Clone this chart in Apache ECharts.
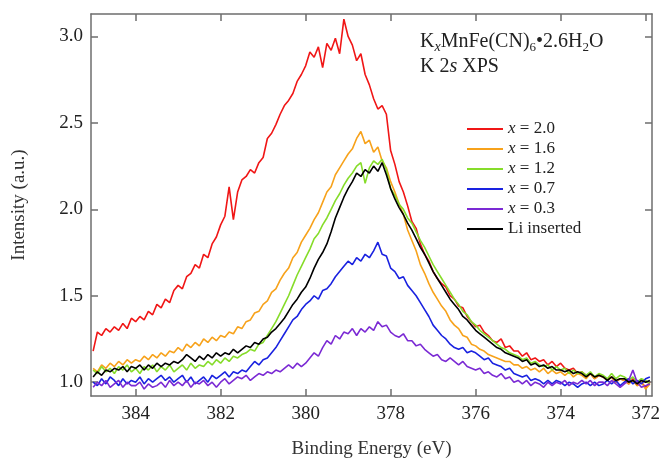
<!DOCTYPE html>
<html>
<head>
<meta charset="utf-8">
<script src="https://cdn.jsdelivr.net/npm/echarts@6/dist/echarts.min.js"></script>
<style>
  html, body { margin: 0; padding: 0; background: #fff; }
  #chart { width: 665px; height: 464px; }
</style>
</head>
<body>
<div id="chart"></div>
<script>
// binding energy grid (eV), 0.1 eV step
var energy = [
  385.0, 384.9, 384.8, 384.7, 384.6, 384.5, 384.4, 384.3, 384.2, 384.1,
  384.0, 383.9, 383.8, 383.7, 383.6, 383.5, 383.4, 383.3, 383.2, 383.1,
  383.0, 382.9, 382.8, 382.7, 382.6, 382.5, 382.4, 382.3, 382.2, 382.1,
  382.0, 381.9, 381.8, 381.7, 381.6, 381.5, 381.4, 381.3, 381.2, 381.1,
  381.0, 380.9, 380.8, 380.7, 380.6, 380.5, 380.4, 380.3, 380.2, 380.1,
  380.0, 379.9, 379.8, 379.7, 379.6, 379.5, 379.4, 379.3, 379.2, 379.1,
  379.0, 378.9, 378.8, 378.7, 378.6, 378.5, 378.4, 378.3, 378.2, 378.1,
  378.0, 377.9, 377.8, 377.7, 377.6, 377.5, 377.4, 377.3, 377.2, 377.1,
  377.0, 376.9, 376.8, 376.7, 376.6, 376.5, 376.4, 376.3, 376.2, 376.1,
  376.0, 375.9, 375.8, 375.7, 375.6, 375.5, 375.4, 375.3, 375.2, 375.1,
  375.0, 374.9, 374.8, 374.7, 374.6, 374.5, 374.4, 374.3, 374.2, 374.1,
  374.0, 373.9, 373.8, 373.7, 373.6, 373.5, 373.4, 373.3, 373.2, 373.1,
  373.0, 372.9, 372.8, 372.7, 372.6, 372.5, 372.4, 372.3, 372.2, 372.1,
  372.0, 371.9
];

var x20 = [
  1.18, 1.29, 1.27, 1.31, 1.29, 1.32, 1.30, 1.34, 1.31, 1.37,
  1.35, 1.38, 1.36, 1.41, 1.39, 1.45, 1.43, 1.48, 1.46, 1.53,
  1.56, 1.54, 1.61, 1.63, 1.68, 1.66, 1.74, 1.72, 1.80, 1.84,
  1.91, 1.96, 2.13, 1.94, 2.10, 2.17, 2.19, 2.23, 2.21, 2.27,
  2.30, 2.41, 2.44, 2.49, 2.55, 2.60, 2.63, 2.67, 2.74, 2.78,
  2.83, 2.91, 2.88, 2.94, 2.82, 2.96, 2.92, 2.99, 2.90, 3.10,
  3.00, 2.95, 2.86, 2.90, 2.78, 2.72, 2.64, 2.58, 2.60, 2.55,
  2.34, 2.26, 2.16, 2.10, 2.02, 1.93, 1.89, 1.80, 1.74, 1.70,
  1.64, 1.60, 1.57, 1.55, 1.50, 1.48, 1.44, 1.43, 1.38, 1.35,
  1.32, 1.33, 1.29, 1.27, 1.24, 1.23, 1.25, 1.20, 1.21, 1.18,
  1.18, 1.15, 1.17, 1.13, 1.14, 1.12, 1.13, 1.10, 1.12, 1.09,
  1.11, 1.08, 1.07, 1.08, 1.05, 1.06, 1.04, 1.05, 1.02, 1.04,
  1.03, 1.01, 1.03, 1.00, 1.02, 1.01, 0.99, 1.02, 0.98, 1.00,
  0.97, 1.00
];

var x16 = [
  1.08, 1.06, 1.10, 1.08, 1.11, 1.09, 1.12, 1.10, 1.13, 1.11,
  1.13, 1.12, 1.15, 1.13, 1.16, 1.14, 1.17, 1.15, 1.18, 1.17,
  1.20, 1.18, 1.22, 1.20, 1.23, 1.21, 1.25, 1.23, 1.26, 1.24,
  1.27, 1.26, 1.29, 1.28, 1.32, 1.31, 1.35, 1.36, 1.40, 1.41,
  1.45, 1.47, 1.52, 1.54, 1.59, 1.63, 1.66, 1.72, 1.75, 1.81,
  1.85, 1.89, 1.94, 1.98, 2.04, 2.10, 2.13, 2.20, 2.24, 2.28,
  2.32, 2.35, 2.41, 2.45, 2.38, 2.40, 2.33, 2.36, 2.28, 2.24,
  2.16, 2.10, 2.03, 1.97, 1.88, 1.82, 1.76, 1.68, 1.63, 1.57,
  1.52, 1.48, 1.44, 1.41, 1.36, 1.33, 1.31, 1.27, 1.26, 1.22,
  1.21, 1.19, 1.18, 1.16, 1.15, 1.14, 1.13, 1.12, 1.12, 1.10,
  1.10, 1.08, 1.09, 1.07, 1.08, 1.06, 1.08, 1.05, 1.07, 1.05,
  1.06, 1.04, 1.06, 1.03, 1.05, 1.04, 1.02, 1.05, 1.02, 1.04,
  1.03, 1.01, 1.03, 1.00, 1.02, 1.01, 0.99, 1.01, 0.98, 1.00,
  0.96, 0.99
];

var x12 = [
  1.07, 1.05, 1.09, 1.06, 1.08, 1.05, 1.09, 1.07, 1.10, 1.06,
  1.08, 1.05, 1.09, 1.07, 1.10, 1.06, 1.09, 1.07, 1.10, 1.06,
  1.08, 1.10, 1.07, 1.11, 1.08, 1.10, 1.09, 1.12, 1.10, 1.13,
  1.11, 1.14, 1.12, 1.15, 1.14, 1.16, 1.17, 1.19, 1.18, 1.22,
  1.23, 1.27, 1.31, 1.35, 1.40, 1.45, 1.50, 1.56, 1.62, 1.67,
  1.72, 1.77, 1.83, 1.86, 1.91, 1.95, 2.00, 2.05, 2.09, 2.14,
  2.18, 2.21, 2.25, 2.27, 2.15, 2.24, 2.28, 2.26, 2.29, 2.23,
  2.12, 2.08, 2.03, 2.00, 1.95, 1.92, 1.87, 1.82, 1.78, 1.73,
  1.68, 1.64, 1.60, 1.56, 1.52, 1.48, 1.45, 1.41, 1.39, 1.35,
  1.33, 1.30, 1.28, 1.26, 1.24, 1.22, 1.20, 1.19, 1.17, 1.16,
  1.15, 1.13, 1.14, 1.11, 1.12, 1.10, 1.09, 1.10, 1.07, 1.09,
  1.07, 1.08, 1.05, 1.07, 1.05, 1.06, 1.04, 1.06, 1.03, 1.05,
  1.04, 1.02, 1.05, 1.02, 1.04, 1.03, 1.01, 1.03, 1.00, 1.02,
  1.01, 0.99
];

var x07 = [
  1.00, 0.98, 1.02, 0.99, 1.03, 1.01, 0.98, 1.02, 0.99, 1.01,
  1.00, 1.03, 0.99, 1.02, 1.00, 1.02, 1.04, 1.01, 1.03, 1.00,
  1.02, 1.04, 1.00, 1.03, 0.99, 1.01, 1.03, 1.00, 1.04, 1.02,
  1.04, 1.06, 1.03, 1.06, 1.05, 1.07, 1.06, 1.09, 1.12, 1.10,
  1.13, 1.14, 1.17, 1.20, 1.24, 1.28, 1.32, 1.36, 1.38, 1.42,
  1.45, 1.47, 1.50, 1.48, 1.53, 1.54, 1.57, 1.61, 1.64, 1.67,
  1.70, 1.68, 1.72, 1.70, 1.74, 1.72, 1.76, 1.81, 1.74, 1.73,
  1.66, 1.64, 1.60, 1.61, 1.56, 1.53, 1.50, 1.46, 1.42, 1.38,
  1.33, 1.30, 1.27, 1.25, 1.22, 1.20, 1.19, 1.20, 1.17, 1.18,
  1.17, 1.15, 1.13, 1.14, 1.11, 1.10, 1.09, 1.07, 1.08, 1.05,
  1.04, 1.03, 1.04, 1.01, 1.02, 1.01, 0.99, 1.01, 0.99, 1.01,
  1.00, 0.98, 1.00, 0.99, 0.97, 0.99, 1.00, 0.98, 1.00, 0.98,
  0.99, 1.01, 0.99, 1.01, 0.98, 1.00, 1.02, 0.99, 1.01, 0.99,
  1.02, 1.03
];

var x03 = [
  0.97, 1.00, 0.98, 1.01, 0.97, 0.99, 1.01, 0.97, 1.00, 0.98,
  0.98, 1.00, 0.96, 0.99, 0.97, 0.98, 1.00, 0.97, 1.01, 0.98,
  1.00, 0.98, 1.01, 0.97, 1.00, 0.99, 1.01, 0.98, 1.00, 0.97,
  1.00, 1.02, 0.99, 1.01, 1.03, 1.02, 1.04, 1.01, 1.03, 1.05,
  1.04, 1.06, 1.05, 1.07, 1.06, 1.08, 1.10, 1.08, 1.11, 1.09,
  1.11, 1.14, 1.17, 1.15, 1.20, 1.24, 1.22, 1.27, 1.25, 1.29,
  1.28, 1.31, 1.27, 1.31, 1.29, 1.32, 1.30, 1.35, 1.32, 1.33,
  1.29, 1.27, 1.26, 1.28, 1.24, 1.24, 1.21, 1.22, 1.19, 1.17,
  1.15, 1.16, 1.13, 1.12, 1.14, 1.12, 1.10, 1.12, 1.09, 1.08,
  1.07, 1.08, 1.05, 1.06, 1.04, 1.03, 1.05, 1.02, 1.03, 1.00,
  1.01, 0.99, 1.01, 0.98, 1.00, 0.99, 0.97, 1.00, 0.98, 1.00,
  0.99, 1.01, 0.98, 1.00, 0.99, 1.01, 0.99, 1.01, 0.98, 1.00,
  1.00, 0.98, 1.01, 0.99, 0.97, 0.99, 1.01, 1.07, 1.00, 0.97,
  0.98, 0.99
];

var liInserted = [
  1.03, 1.06, 1.04, 1.07, 1.06, 1.08, 1.07, 1.09, 1.06, 1.09,
  1.08, 1.10, 1.07, 1.10, 1.08, 1.11, 1.09, 1.11, 1.10, 1.12,
  1.11, 1.13, 1.16, 1.14, 1.12, 1.15, 1.13, 1.16, 1.14, 1.17,
  1.15, 1.17, 1.16, 1.19, 1.17, 1.19, 1.21, 1.20, 1.23, 1.22,
  1.25, 1.26, 1.29, 1.31, 1.34, 1.37, 1.41, 1.45, 1.48, 1.52,
  1.55, 1.60, 1.66, 1.71, 1.75, 1.80, 1.87, 1.95, 2.01, 2.07,
  2.12, 2.16, 2.21, 2.19, 2.23, 2.21, 2.25, 2.22, 2.27, 2.20,
  2.12, 2.06, 2.01, 1.97, 1.92, 1.88, 1.83, 1.78, 1.74, 1.69,
  1.64, 1.60, 1.56, 1.52, 1.48, 1.45, 1.42, 1.38, 1.36, 1.33,
  1.30, 1.28, 1.26, 1.24, 1.22, 1.20, 1.19, 1.17, 1.16, 1.15,
  1.14, 1.12, 1.13, 1.10, 1.11, 1.09, 1.10, 1.08, 1.09, 1.07,
  1.07, 1.06, 1.07, 1.05, 1.06, 1.05, 1.03, 1.05, 1.03, 1.04,
  1.03, 1.01, 1.03, 1.01, 1.02, 1.02, 1.00, 1.01, 0.99, 1.01,
  1.00, 1.01
];

var seriesNames = ["x = 2.0", "x = 1.6", "x = 1.2", "x = 0.7", "x = 0.3", "Li inserted"];
var seriesData = [x20, x16, x12, x07, x03, liInserted];
var colors = ["#f01616", "#f7a21b", "#86dc2a", "#1a22e0", "#7b2ad4", "#000000"];

var xTicks = [372, 374, 376, 378, 380, 382, 384];
var yTicks = [1.0, 1.5, 2.0, 2.5, 3.0];

var FONT = "Liberation Serif";
var AXIS_COLOR = "#6e6e6e";

function pairs(ys) {
  var out = [];
  for (var i = 0; i < ys.length; i++) out.push([energy[i], ys[i]]);
  return out;
}

var chart = echarts.init(document.getElementById("chart"));

var frameX = {
  type: "value", min: 371.85, max: 385.05, inverse: true,
  axisLine: { lineStyle: { color: AXIS_COLOR, width: 1.5 } },
  axisTick: { inside: true, length: 7, customValues: xTicks, lineStyle: { color: AXIS_COLOR, width: 1.5 } },
  splitLine: { show: false }
};
var frameY = {
  type: "value", min: 0.92, max: 3.13,
  axisLine: { lineStyle: { color: AXIS_COLOR, width: 1.5 } },
  axisTick: { inside: true, length: 7, customValues: yTicks, lineStyle: { color: AXIS_COLOR, width: 1.5 } },
  splitLine: { show: false }
};

var series = seriesNames.map(function (name, k) {
  return {
    name: name,
    type: "line",
    data: pairs(seriesData[k]),
    symbol: "none",
    color: colors[k],
    lineStyle: { width: 1.6, color: colors[k] },
    z: 2 + k
  };
});

chart.setOption({
  animation: false,
  backgroundColor: "#fff",
  grid: { left: 91, right: 13, top: 14, bottom: 67 },
  title: {
    left: 415, top: 24,
    text: "{n|K}{sx|x}{n|MnFe(CN)}{sb|6}{n|•2.6H}{sb|2}{n|O}\n{n|K 2}{it|s}{n| XPS}",
    textStyle: {
      fontWeight: "normal",
      rich: {
        n: { fontFamily: FONT, fontSize: 20, fontWeight: "normal", color: "#222", lineHeight: 25 },
        sb: { fontFamily: FONT, fontSize: 13, fontWeight: "normal", color: "#222", lineHeight: 13, verticalAlign: "bottom" },
        sx: { fontFamily: FONT, fontSize: 14, fontWeight: "normal", fontStyle: "italic", color: "#222", lineHeight: 13, verticalAlign: "bottom" },
        it: { fontFamily: FONT, fontSize: 20, fontWeight: "normal", fontStyle: "italic", color: "#222", lineHeight: 25 }
      }
    }
  },
  legend: {
    orient: "vertical",
    left: 462, top: 115,
    itemWidth: 36, itemHeight: 2, itemGap: 2,
    icon: "rect",
    data: seriesNames,
    formatter: function (name) {
      if (name.charAt(0) === "x") return "{i|x}{t|" + name.slice(1) + "}";
      return "{t|" + name + "}";
    },
    textStyle: {
      fontFamily: FONT, fontSize: 17, color: "#222", lineHeight: 18,
      rich: {
        i: { fontFamily: FONT, fontSize: 17, fontStyle: "italic", color: "#222", lineHeight: 18 },
        t: { fontFamily: FONT, fontSize: 17, color: "#222", lineHeight: 18 }
      }
    }
  },
  xAxis: [
    Object.assign({}, frameX, {
      position: "bottom",
      name: "Binding Energy (eV)",
      nameLocation: "middle", nameGap: 44,
      nameTextStyle: { fontFamily: FONT, fontSize: 19, color: "#333" },
      axisLabel: { customValues: xTicks, fontFamily: FONT, fontSize: 19, color: "#222", margin: 9 }
    }),
    Object.assign({}, frameX, { position: "top", axisLabel: { show: false } })
  ],
  yAxis: [
    Object.assign({}, frameY, {
      position: "left",
      name: "Intensity (a.u.)",
      nameLocation: "middle", nameGap: 62,
      nameTextStyle: { fontFamily: FONT, fontSize: 19, color: "#333" },
      axisLabel: {
        customValues: yTicks, fontFamily: FONT, fontSize: 19, color: "#222", margin: 8,
        formatter: function (v) { return v.toFixed(1); }
      }
    }),
    Object.assign({}, frameY, { position: "right", axisLabel: { show: false } })
  ],
  series: series
});
</script>
</body>
</html>
